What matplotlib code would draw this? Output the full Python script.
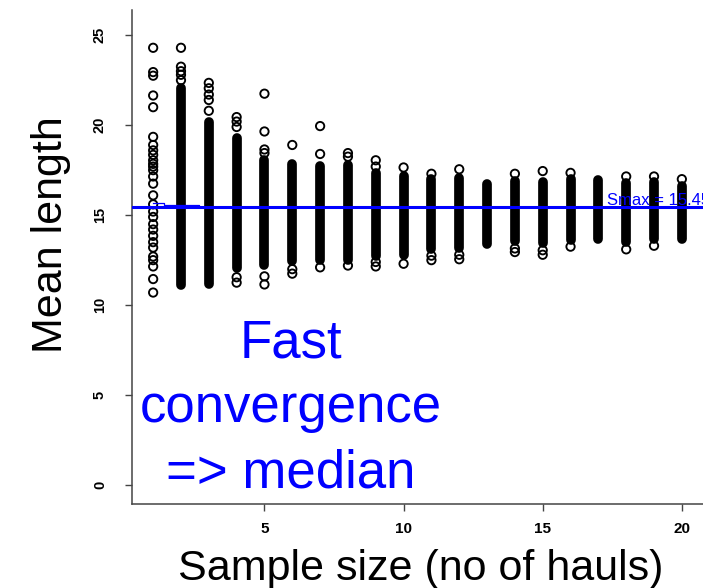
import matplotlib
matplotlib.use("Agg")
import matplotlib.pyplot as plt
from matplotlib import font_manager
import numpy as np

# sample size (number of hauls) on the x axis
sample_size = list(range(1, 21))

# separately visible resampled mean lengths for each sample size
sparse_means = [
    [24.3, 22.95, 22.75, 21.65, 21.0, 19.35, 18.9, 18.6, 18.35, 18.05, 17.85,
     17.7, 17.5, 17.15, 16.75, 16.1, 15.6, 15.2, 14.9, 14.5, 14.2, 13.85,
     13.5, 13.2, 12.7, 12.5, 12.15, 11.45, 10.7],
    [24.3, 23.25, 23.0, 22.8, 22.5],
    [22.35, 22.05, 21.7, 21.4, 20.8],
    [20.45, 20.2, 19.9, 11.55, 11.25],
    [21.75, 19.65, 18.65, 18.45, 11.6, 11.15],
    [18.9, 12.0, 11.75],
    [19.95, 18.4, 12.1],
    [18.45, 18.25, 12.2],
    [18.05, 17.7, 12.4, 12.15],
    [17.65, 12.3],
    [17.3, 12.75, 12.5],
    [17.55, 12.8, 12.55],
    [],
    [17.3, 13.15, 12.95],
    [17.45, 13.05, 12.8],
    [17.35, 13.25],
    [],
    [17.15, 13.1],
    [17.15, 13.3],
    [17.0],
]

# span of the solid block of overlapping means in each column
dense_low = [np.nan, 11.1, 11.2, 12.05, 12.25, 12.45, 12.5, 12.5, 12.75, 12.8,
             13.1, 13.2, 13.4, 13.55, 13.45, 13.6, 13.65, 13.5, 13.65, 13.65]
dense_high = [np.nan, 22.05, 20.2, 19.3, 18.05, 17.85, 17.75, 17.8, 17.35, 17.2,
              17.0, 17.05, 16.75, 16.9, 16.85, 17.0, 16.95, 16.8, 16.85, 16.6]

smax = 15.45
# running median trace at the start
trace_x = [1.0, 1.4, 2.65]
trace_y = [15.65, 15.58, 15.45]

xticks = [5, 10, 15, 20]
yticks = [0, 5, 10, 15, 20, 25]
note_lines = ["Fast", "convergence", "=> median"]

W, H = 703, 588
plt.rcParams["font.family"] = ["Liberation Sans", "DejaVu Sans"]
fig = plt.figure(figsize=(W / 100, H / 100), dpi=100)
ax = fig.add_axes([132 / W, 1 - 504 / H, 571 / W, 494 / H])
ax.set_xlim(0.24, 20.76)
ax.set_ylim(-1.05, 26.4)

ax.vlines(sample_size, dense_low, dense_high, colors="black",
          linewidth=7, capstyle="round", zorder=2)
for s, pts in zip(sample_size, sparse_means):
    if pts:
        ax.scatter([s] * len(pts), pts, s=36, facecolors="none",
                   edgecolors="black", linewidths=1.35, zorder=3)

ax.axhline(smax, color="#0000ff", lw=2.2, zorder=4)
ax.plot(trace_x, trace_y, drawstyle="steps-post", color="#0000ff", lw=0.9, zorder=4)
ax.text(17.3, smax + 0.12, f"Smax = {smax}", color="#0000ff", fontsize=12,
        va="baseline", ha="left", clip_on=False, zorder=5)

for side in ("top", "right"):
    ax.spines[side].set_visible(False)
for side in ("left", "bottom"):
    ax.spines[side].set_color("#444444")
    ax.spines[side].set_linewidth(1.1)

ax.set_xticks(xticks)
ax.set_yticks(yticks)
ax.tick_params(axis="both", direction="out", length=5, width=1, color="#444444")
ax.tick_params(axis="x", pad=8, labelsize=11)
ax.tick_params(axis="y", pad=13, labelsize=10.5)
for lab in ax.get_xticklabels():
    lab.set_fontweight("bold")
for lab in ax.get_yticklabels():
    lab.set_fontweight("bold")
    lab.set_rotation(90)
    lab.set_va("center")

names = {f.name for f in font_manager.fontManager.ttflist}
if "Liberation Sans Narrow" in names:
    ylab_family, ylab_size = "Liberation Sans Narrow", 36
else:
    ylab_family, ylab_size = "Liberation Sans", 31
fig.text(62 / W, 1 - 235 / H, "Mean length", rotation=90, rotation_mode="anchor",
         ha="center", va="baseline", fontsize=ylab_size, family=ylab_family)
fig.text(421 / W, 1 - 580 / H, "Sample size (no of hauls)", ha="center",
         va="baseline", fontsize=31)

for line, base in zip(note_lines, [358, 422, 487]):
    fig.text(291 / W, 1 - base / H, line, ha="center", va="baseline",
             fontsize=38, color="#0000ff")

fig.savefig("out.png", dpi=100)
